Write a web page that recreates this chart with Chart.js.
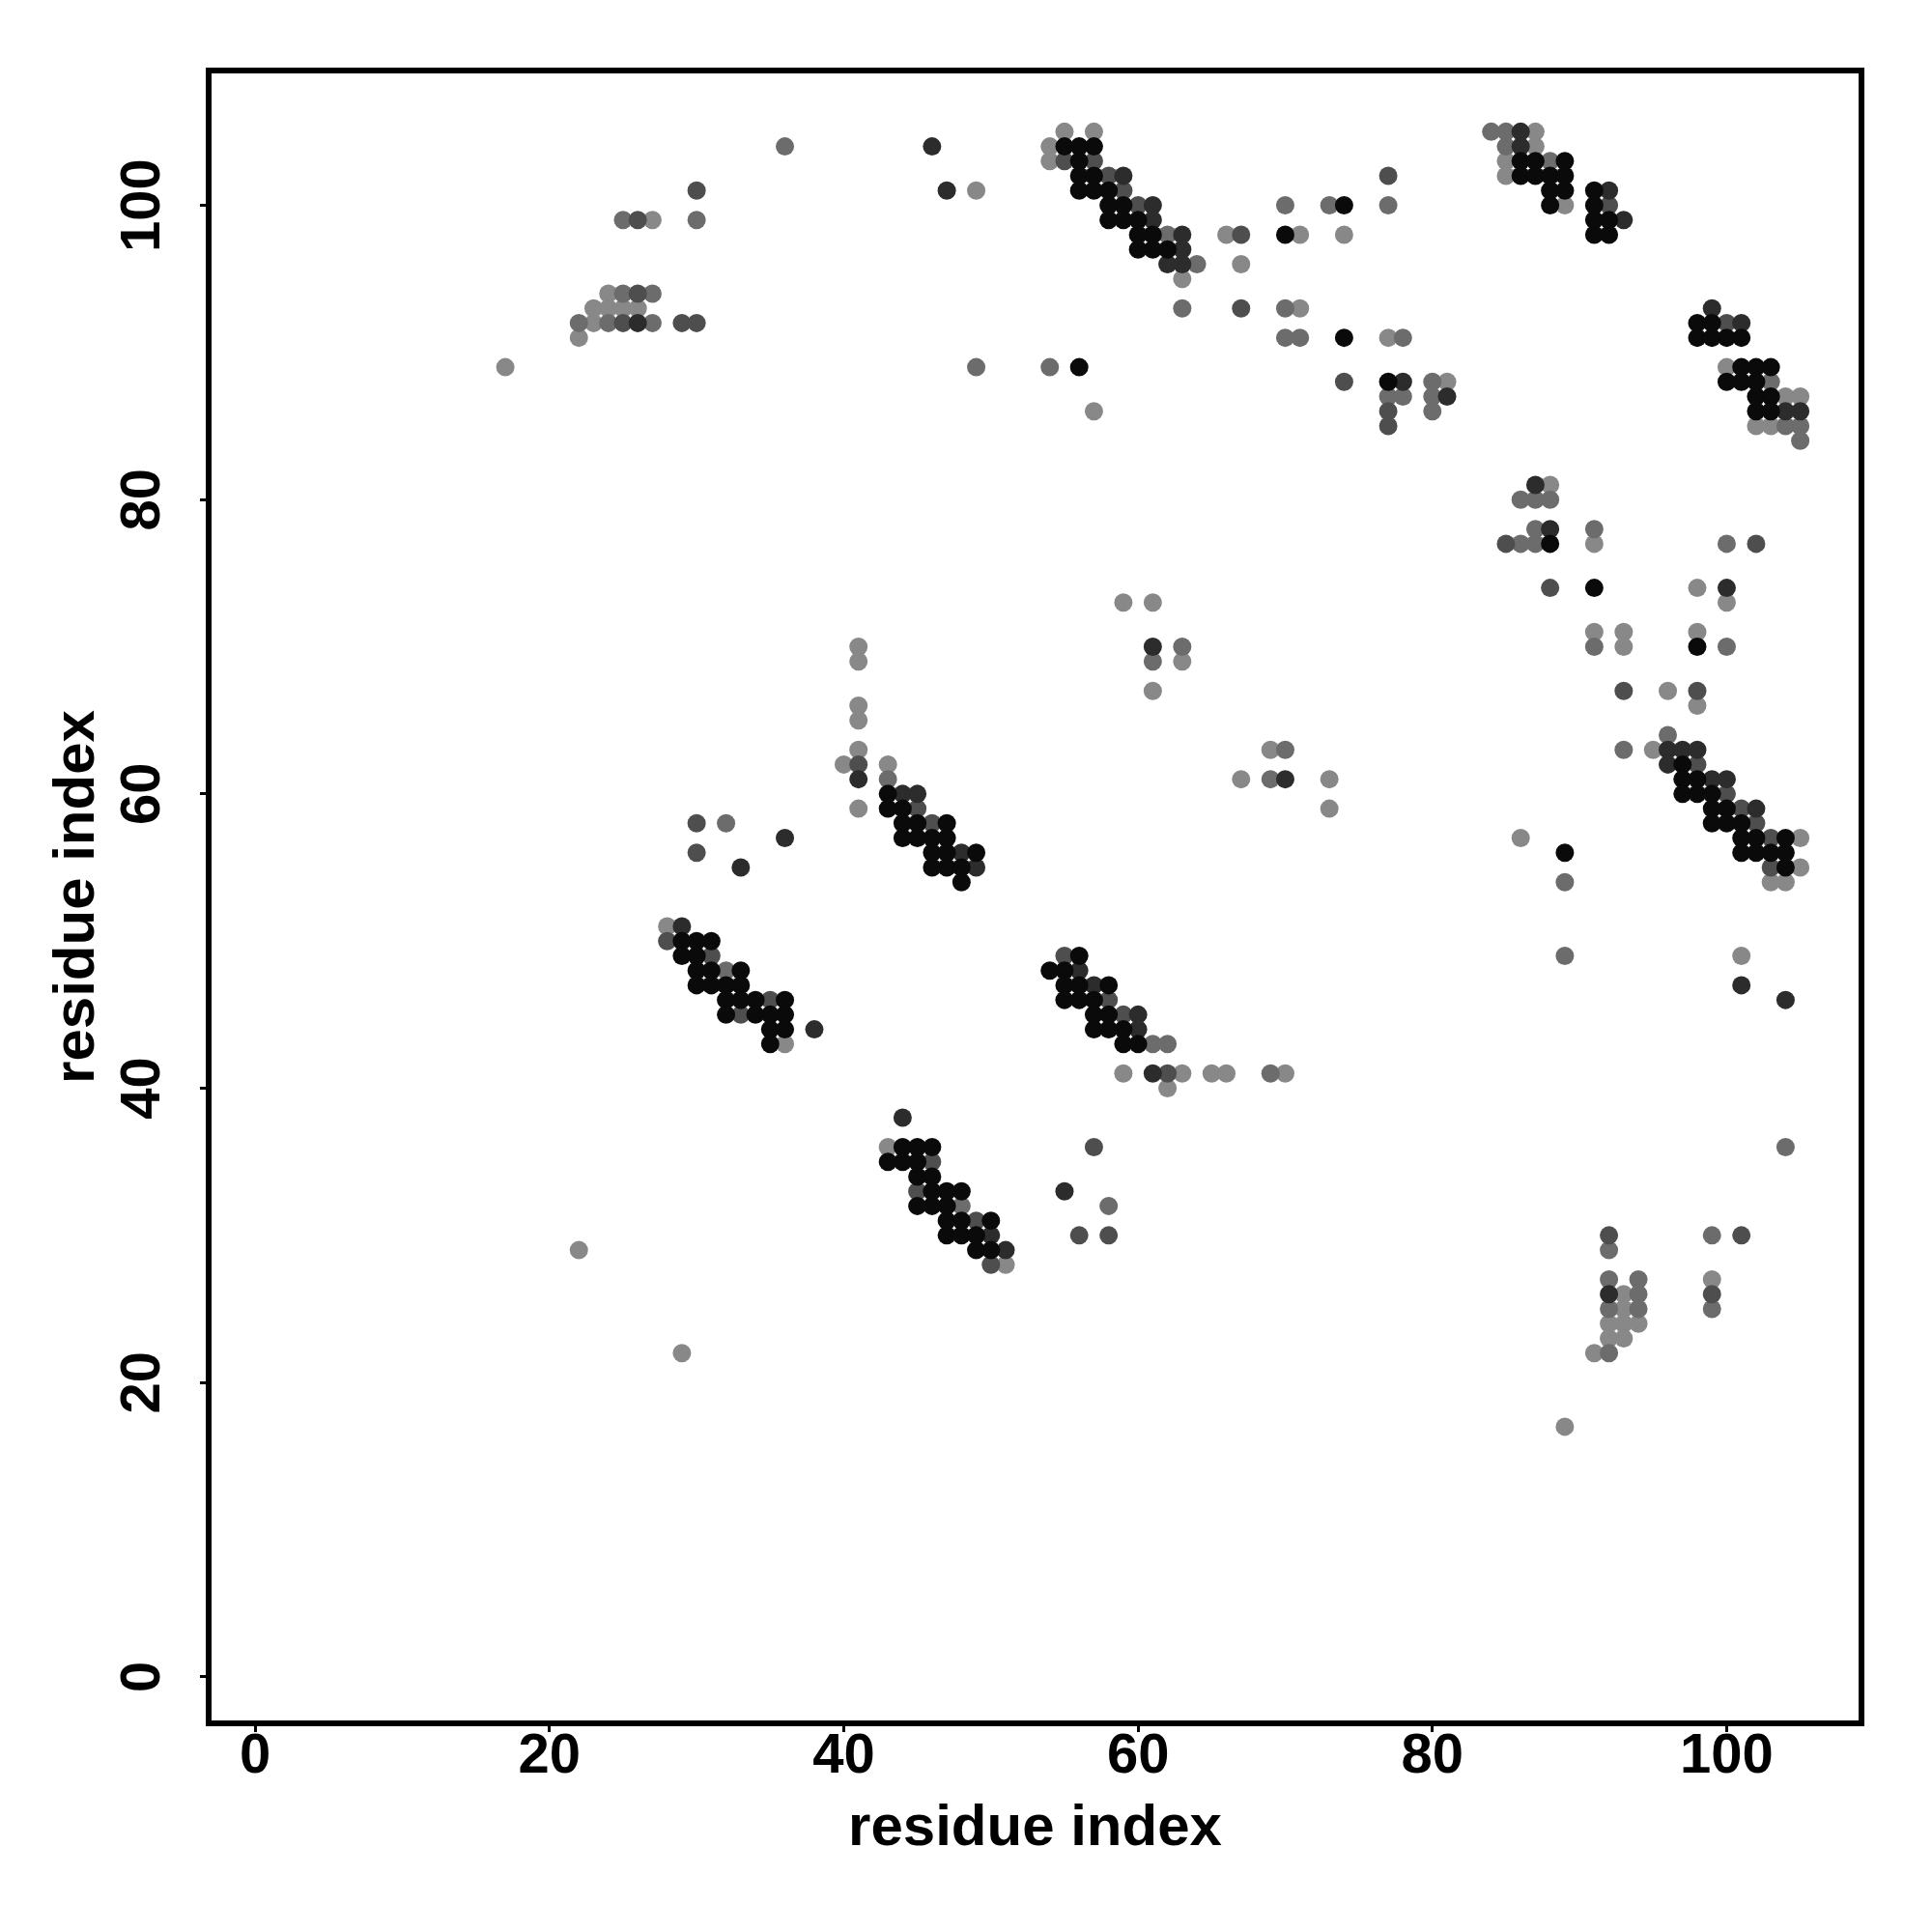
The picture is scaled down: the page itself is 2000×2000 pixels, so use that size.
<!DOCTYPE html>
<html>
<head>
<meta charset="utf-8">
<title>residue contact map</title>
<script src="https://cdn.jsdelivr.net/npm/chart.js@4.4.1/dist/chart.umd.min.js"></script>
<style>
  html, body { margin: 0; padding: 0; background: #fff; }
  canvas { display: block; }
</style>
</head>
<body>
<canvas id="contactMap" width="2000" height="2000"></canvas>
<script>
// contact pairs [residue i, residue j], grouped by shade (darkest first)
const shadeBlack = [
  [55,104],[56,104],[57,104],[56,103],[56,102],[57,102],[56,101],[57,101],[58,101],
  [58,100],[59,100],[58,99],[59,99],[60,99],[60,98],[61,98],[60,97],[61,97],[62,97],
  [56,89],[74,100],[70,98],[74,91],[77,88],
  [86,103],[87,103],[89,103],[86,102],[87,102],[88,102],[89,102],[88,101],[89,101],[88,100],
  [91,101],[91,100],[91,99],[92,99],[91,98],[92,98],
  [98,92],[99,92],[98,91],[99,91],[100,91],[101,91],[101,89],[102,89],[103,89],
  [100,88],[101,88],[102,88],[102,87],[103,87],[102,86],[103,86],
  [88,77],[91,74],[98,70],[97,62],[97,61],[98,61],[97,60],[98,60],[99,60],
  [99,59],[100,59],[99,58],[100,58],[101,58],[101,57],[102,57],[104,57],
  [89,56],[101,56],[102,56],[103,56],[104,56],[104,55],
  [43,60],[43,59],[44,59],[44,58],[45,58],[47,58],[44,57],[45,57],[46,57],[47,57],
  [46,56],[47,56],[49,56],[46,55],[47,55],[48,55],[48,54],
  [29,50],[30,50],[31,50],[29,49],[30,49],[30,48],[31,48],[33,48],[30,47],[31,47],[32,47],[33,47],
  [32,46],[33,46],[34,46],[36,46],[32,45],[34,45],[35,45],[36,45],[35,44],[36,44],[35,43],
  [44,36],[45,36],[46,36],[43,35],[44,35],[45,35],[45,34],[46,34],[46,33],[47,33],[48,33],
  [45,32],[46,32],[47,32],[47,31],[48,31],[50,31],[47,30],[48,30],[49,30],[49,29],[50,29],
  [56,49],[54,48],[55,48],[55,47],[56,47],[58,47],[55,46],[56,46],[57,46],
  [57,45],[58,45],[57,44],[58,44],[59,44],[59,43],[60,43]
];
const shadeDark = [
  [26,92],[46,104],[47,101],[59,102],[61,100],[61,99],[63,98],[63,97],[62,96],[63,96],
  [78,88],[81,87],[86,105],[86,104],[92,101],[93,99],
  [99,93],[101,92],[104,86],[105,86],
  [87,81],[88,78],[100,74],[96,63],[97,63],[98,63],[96,62],[99,61],[100,61],[102,59],
  [101,47],[104,46],[92,26],
  [61,70],[41,61],[44,60],[45,60],[48,56],[49,55],[70,61],
  [36,57],[33,55],[29,51],[38,44],[44,38],[50,30],[51,29],
  [56,48],[57,47],[60,45],[60,44],[61,41],[55,33]
];
const shadeMid = [
  [30,101],[26,99],[26,94],[25,92],[29,92],[30,92],
  [55,103],[57,103],[58,102],[59,101],[60,100],
  [77,102],[67,98],[67,93],[74,88],[77,86],[77,85],
  [92,100],[100,92],
  [85,77],[102,77],[88,74],[93,67],[98,67],[98,62],[100,60],[101,59],[102,58],[103,57],[103,55],
  [92,30],[101,30],[99,26],
  [41,62],[45,59],[46,58],
  [30,58],[30,56],[28,50],[31,49],[35,46],[33,45],[46,35],[45,33],[49,31],[50,28],
  [55,49],[58,46],[59,45],[62,41],[57,36],[56,30],[58,30]
];
const shadeGrey = [
  [25,99],[30,99],[25,94],[27,94],[22,92],[24,92],[27,92],[36,104],
  [62,98],[64,96],[63,93],[49,89],[54,89],
  [70,100],[73,100],[77,100],[70,93],[70,91],[71,91],[78,91],[80,88],
  [77,87],[78,87],[80,87],[80,86],
  [84,105],[85,105],[85,104],[88,103],
  [103,88],[104,85],[105,85],[105,84],
  [86,80],[87,80],[88,80],[87,78],[91,78],[86,77],[87,77],[100,77],
  [91,70],[100,70],[96,64],[93,63],[89,54],
  [89,49],[104,36],[92,29],[99,30],[92,27],[92,25],[92,22],[94,27],[94,26],[94,25],[99,25],
  [63,70],[61,69],[43,61],[70,63],[69,61],
  [32,58],[32,48],[48,32],
  [61,43],[62,43],[69,41],[58,32]
];
const shadeLight = [
  [24,94],[23,93],[24,93],[25,93],[26,93],[23,92],[22,91],[17,89],[27,99],
  [49,101],[55,105],[57,105],[54,104],[54,103],[63,95],[57,86],
  [66,98],[71,98],[74,98],[67,96],[71,93],[77,91],[81,88],
  [87,105],[87,104],[85,103],[85,102],[89,100],
  [100,89],[104,87],[105,87],[102,85],[103,85],
  [88,81],[91,77],[98,74],[100,73],[91,71],[93,71],[98,71],[93,70],[96,67],[98,66],
  [95,63],[86,57],[105,57],[105,55],[103,54],[104,54],
  [101,49],[92,24],[92,23],[93,26],[93,25],[93,24],[93,23],[94,24],[91,22],[99,27],[89,17],
  [59,73],[61,73],[63,69],[61,67],
  [41,70],[41,69],[41,66],[41,65],[41,63],[41,59],[40,62],[43,62],
  [69,63],[67,61],[73,61],[73,59],
  [28,51],[36,43],[43,36],[51,28],
  [59,41],[63,41],[65,41],[66,41],[70,41],[62,40],
  [22,29],[29,22]
];

const shadeColors = ['#0a0a0a', '#2c2c2c', '#4e4e4e', '#6c6c6c', '#888888'];
const tickValues = [0, 20, 40, 60, 80, 100];
const axisMin = -3.16;
const axisMax = 109.16;

const tickFont = { family: 'Liberation Sans', size: 58, weight: 'bold', lineHeight: 1 };
const titleFont = { family: 'Liberation Sans', size: 60, weight: 'bold', lineHeight: 1 };

function toPoints(pairs) {
    return pairs.map(p => ({ x: p[0], y: p[1] }));
}

function makeDataset(pairs, color) {
    return {
        data: toPoints(pairs),
        backgroundColor: color,
        borderWidth: 0,
        pointRadius: 9.5,
        pointHoverRadius: 9.5,
        pointBorderWidth: 0
    };
}

// draws the full frame around the plot region
const frameBox = {
    id: 'frameBox',
    afterDraw(chart) {
        const { ctx, chartArea } = chart;
        ctx.save();
        ctx.strokeStyle = '#000';
        ctx.lineWidth = 6;
        ctx.strokeRect(chartArea.left, chartArea.top,
            chartArea.right - chartArea.left, chartArea.bottom - chartArea.top);
        ctx.restore();
    }
};

function axisOptions(isX) {
    return {
        type: 'linear',
        position: isX ? 'bottom' : 'left',
        min: axisMin,
        max: axisMax,
        afterBuildTicks: scale => {
            scale.ticks = tickValues.map(v => ({ value: v }));
        },
        afterFit: scale => {
            if (isX) scale.height = 216;
            else scale.width = 216;
        },
        ticks: {
            font: tickFont,
            color: '#000',
            autoSkip: false,
            minRotation: isX ? 0 : 90,
            maxRotation: isX ? 0 : 90,
            crossAlign: isX ? 'near' : 'center',
            padding: isX ? -3 : 10
        },
        grid: {
            display: true,
            drawOnChartArea: false,
            drawTicks: true,
            tickLength: 9,
            tickWidth: 3,
            tickColor: '#000'
        },
        border: { display: false },
        title: {
            display: true,
            text: 'residue index',
            color: '#000',
            font: titleFont,
            padding: isX ? { top: 0, bottom: 77 } : { top: 50, bottom: 0 }
        }
    };
}

new Chart(document.getElementById('contactMap'), {
    type: 'scatter',
    data: {
        datasets: [
            makeDataset(shadeBlack, shadeColors[0]),
            makeDataset(shadeDark, shadeColors[1]),
            makeDataset(shadeMid, shadeColors[2]),
            makeDataset(shadeGrey, shadeColors[3]),
            makeDataset(shadeLight, shadeColors[4])
        ]
    },
    options: {
        responsive: false,
        maintainAspectRatio: false,
        animation: false,
        devicePixelRatio: 1,
        layout: { padding: { top: 73, right: 73, left: 0, bottom: 0 } },
        plugins: {
            legend: { display: false },
            tooltip: { enabled: false }
        },
        scales: {
            x: axisOptions(true),
            y: axisOptions(false)
        }
    },
    plugins: [frameBox]
});
</script>
</body>
</html>
